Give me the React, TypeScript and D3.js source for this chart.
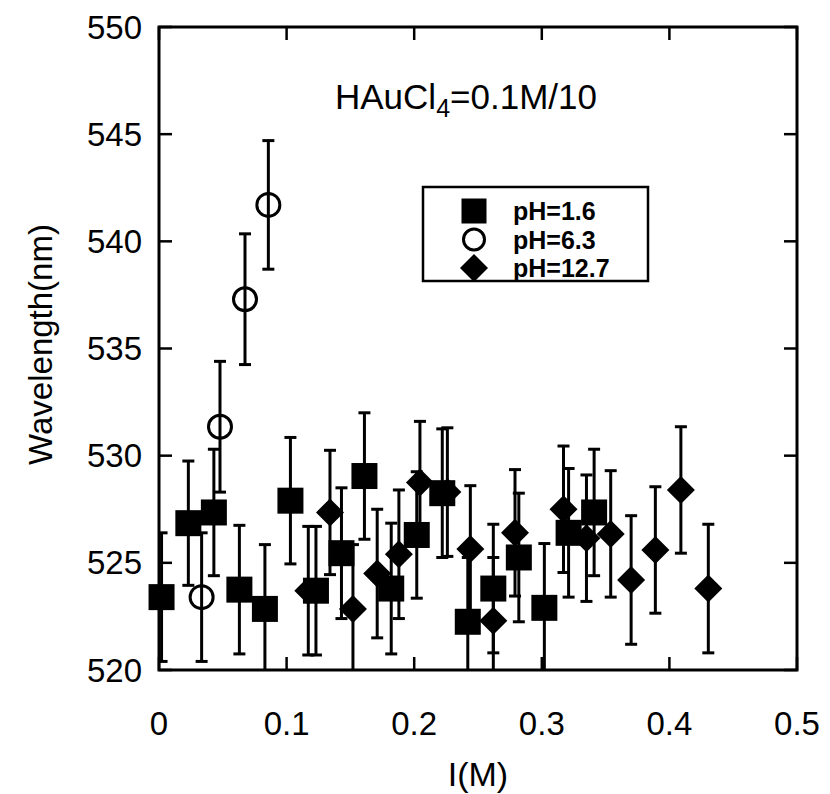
import React from "react";
import * as d3 from "d3";

// ---- data ----
const xTicks = [0, 0.1, 0.2, 0.3, 0.4, 0.5];
const xTickLabels = ["0", "0.1", "0.2", "0.3", "0.4", "0.5"];
const yTicks = [520, 525, 530, 535, 540, 545, 550];
const yTickLabels = ["520", "525", "530", "535", "540", "545", "550"];

const seriesNames = ["pH=1.6", "pH=6.3", "pH=12.7"];

const pH16X = [0.002, 0.023, 0.043, 0.063, 0.083, 0.103, 0.123, 0.143, 0.161, 0.182, 0.202, 0.222, 0.242, 0.262, 0.282, 0.302, 0.321, 0.341];
const pH16Y = [523.4, 526.85, 527.35, 523.75, 522.85, 527.9, 523.7, 525.45, 529.05, 523.8, 526.3, 528.25, 522.25, 523.8, 525.25, 522.9, 526.4, 527.35];
const pH16Err = [3.0, 2.9, 2.95, 3.0, 3.0, 2.95, 3.0, 3.05, 2.95, 3.05, 2.95, 3.0, 3.0, 3.0, 3.0, 3.0, 3.0, 2.95];

const pH63X = [0.0334, 0.0478, 0.0674, 0.0857];
const pH63Y = [523.4, 531.35, 537.3, 541.7];
const pH63Err = [3.0, 3.05, 3.05, 3.0];

const pH127X = [0.117, 0.134, 0.152, 0.171, 0.188, 0.2045, 0.226, 0.244, 0.262, 0.279, 0.317, 0.335, 0.354, 0.370, 0.389, 0.409, 0.4305];
const pH127Y = [523.7, 527.35, 522.85, 524.5, 525.4, 528.75, 528.3, 525.65, 522.3, 526.4, 527.5, 526.15, 526.35, 524.2, 525.6, 528.4, 523.8];
const pH127Err = [3.0, 2.9, 3.0, 3.0, 3.0, 2.85, 3.0, 2.95, 2.95, 2.95, 2.95, 2.95, 2.95, 3.0, 2.95, 2.95, 3.0];

const W = 830, H = 794;
const L = 159, R = 797, T = 27, B = 670;
const FONT = "'Liberation Sans', Arial, Helvetica, sans-serif";

export default function App() {
  const x = d3.scaleLinear().domain([0, 0.5]).range([L, R]);
  const y = d3.scaleLinear().domain([520, 550]).range([B, T]);

  const mk = (xs: number[], ys: number[], es: number[]) =>
    xs.map((v, i) => ({ x: v, y: ys[i], e: es[i] }));
  const s16 = mk(pH16X, pH16Y, pH16Err);
  const s63 = mk(pH63X, pH63Y, pH63Err);
  const s127 = mk(pH127X, pH127Y, pH127Err);

  const sq = 26;
  const diamond = (cx: number, cy: number, r = 14) =>
    `M${cx},${cy - r}L${cx + r},${cy}L${cx},${cy + r}L${cx - r},${cy}Z`;

  const errBars = (pts: { x: number; y: number; e: number }[], key: string) =>
    pts.map((p, i) => {
      const cx = x(p.x);
      const y1 = y(p.y + p.e), y2 = y(p.y - p.e);
      return (
        <g key={key + i} stroke="#000" strokeWidth={3}>
          <line x1={cx} x2={cx} y1={y1} y2={y2} />
          <line x1={cx - 6} x2={cx + 6} y1={y1} y2={y1} />
          <line x1={cx - 6} x2={cx + 6} y1={y2} y2={y2} />
        </g>
      );
    });

  const legendRows = [211, 239.5, 268];

  return (
    <svg width={W} height={H} style={{ position: "absolute", left: 0, top: 0, background: "#fff" }}>
      <defs>
        <clipPath id="plot">
          <rect x={L} y={T} width={R - L} height={B - T} />
        </clipPath>
      </defs>
      <rect x={0} y={0} width={W} height={H} fill="#fff" />

      {/* error bars (clipped to the plot) */}
      <g clipPath="url(#plot)">
        {errBars(s16, "e16")}
        {errBars(s127, "e127")}
        {errBars(s63, "e63")}
      </g>

      {/* frame */}
      <rect x={L} y={T} width={R - L} height={B - T} fill="none" stroke="#000" strokeWidth={3} />

      {/* markers */}
      <g>
        {s16.map((p, i) => (
          <rect key={"s" + i} x={x(p.x) - sq / 2} y={y(p.y) - sq / 2} width={sq} height={sq} fill="#000" />
        ))}
        {s127.map((p, i) => (
          <path key={"d" + i} d={diamond(x(p.x), y(p.y))} fill="#000" />
        ))}
        {s63.map((p, i) => (
          <circle key={"c" + i} cx={x(p.x)} cy={y(p.y)} r={11.5} fill="none" stroke="#000" strokeWidth={3} />
        ))}
      </g>

      {/* ticks */}
      <g stroke="#000" strokeWidth={2.5}>
        {xTicks.map((t, i) => (
          <g key={"xt" + i}>
            <line x1={x(t)} x2={x(t)} y1={B} y2={B - 13} />
            <line x1={x(t)} x2={x(t)} y1={T} y2={T + 13} />
          </g>
        ))}
        {yTicks.map((t, i) => (
          <g key={"yt" + i}>
            <line x1={L} x2={L + 13} y1={y(t)} y2={y(t)} />
            <line x1={R} x2={R - 13} y1={y(t)} y2={y(t)} />
          </g>
        ))}
      </g>

      {/* tick labels */}
      <g fontFamily={FONT} fontSize={33} fill="#000">
        {xTicks.map((t, i) => (
          <text key={"xl" + i} x={x(t)} y={B + 65} textAnchor="middle">{xTickLabels[i]}</text>
        ))}
        {yTicks.map((t, i) => (
          <text key={"yl" + i} x={L - 17} y={y(t)} textAnchor="end" dominantBaseline="central">{yTickLabels[i]}</text>
        ))}
      </g>

      {/* axis labels */}
      <text x={(L + R) / 2} y={786} textAnchor="middle" fontFamily={FONT} fontSize={34}>I(M)</text>
      <text transform={`translate(52,${(T + B) / 2 - 4}) rotate(-90)`} textAnchor="middle" fontFamily={FONT} fontSize={33}>Wavelength(nm)</text>

      {/* title */}
      <text x={335} y={109} fontFamily={FONT} fontSize={35}>
        HAuCl<tspan fontSize={25} dy={8}>4</tspan><tspan dy={-8}>=0.1M/10</tspan>
      </text>

      {/* legend */}
      <rect x={423} y={187} width={225} height={94} fill="#fff" stroke="#000" strokeWidth={2.5} />
      <rect x={474 - 12.5} y={legendRows[0] - 12.5} width={25} height={25} fill="#000" />
      <circle cx={474} cy={legendRows[1]} r={10.5} fill="none" stroke="#000" strokeWidth={3} />
      <path d={diamond(474, legendRows[2], 14)} fill="#000" />
      <g fontFamily={FONT} fontSize={25} fontWeight="bold">
        {seriesNames.map((n, i) => (
          <text key={n} x={513} y={legendRows[i]} dominantBaseline="central">{n}</text>
        ))}
      </g>
    </svg>
  );
}
